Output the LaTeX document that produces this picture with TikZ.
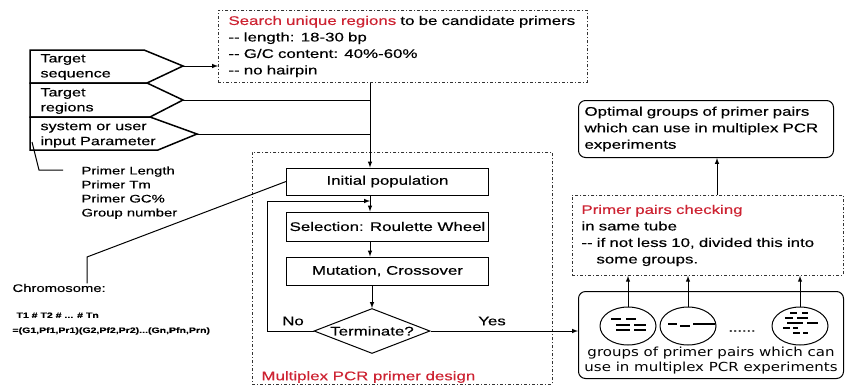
\documentclass[tikz,border=0pt]{standalone}
\usepackage{fontspec}
\setmainfont{Liberation Sans}[FakeStretch=1.35,FakeBold=0.4]
\newfontfamily\grpfont{DejaVu Sans}[FakeStretch=1.2]
\usetikzlibrary{shapes.geometric,positioning}
\definecolor{rouge}{RGB}{205,35,50}

\begin{document}
\begin{tikzpicture}[x=1pt,y=-1pt,line width=1pt]
%styles des boites et des traits
\tikzset{boite/.style={draw,rectangle,minimum width=202pt,inner sep=0pt,font=\fontsize{12.5}{15}\selectfont},
texte/.style={align=left,inner sep=0pt,font=\fontsize{12.5}{16.5}\selectfont},
tiret/.style={draw=black!80,dash pattern=on 3pt off 2pt on 1pt off 2pt,line width=0.9pt},
arrondi/.style={draw,rounded corners=7pt,line width=1pt},
fleche/.style={-latex,line width=1pt},
entree/.style={line width=1.5pt}}
\useasboundingbox (0,0) rectangle (846,389);

%recherche des regions
\node[tiret,texte,anchor=north west,minimum width=369pt,minimum height=72pt,text width=349pt,inner xsep=10pt] (search) at (218,10)
{\textcolor{rouge}{Search unique regions} to be candidate primers\\-{}- length: 18-30 bp\\-{}- G/C content: 40\%-60\%\\-{}- no hairpin};

%entrees (fleches pentagones)
\draw[entree] (30,50) -- (144,50) -- (183,66) -- (147,83) -- (30,83) -- cycle;
\draw[entree] (30,83) -- (147,83) -- (183,100) -- (150,117) -- (30,117) -- cycle;
\draw[entree] (30,117) -- (150,117) -- (197,134) -- (158,150) -- (30,150) -- cycle;
\node[texte,anchor=west,font=\fontsize{12}{15}\selectfont] (tseq) at (40,67) {Target\\sequence};
\node[texte,anchor=west,font=\fontsize{12}{15}\selectfont] (treg) at (40,101) {Target\\regions};
\node[texte,anchor=west,font=\fontsize{12}{15}\selectfont] (tpar) at (40,135) {system or user\\input Parameter};
\coordinate (pseq) at (183,66);
\coordinate (preg) at (183,100);
\coordinate (ppar) at (197,134);
\coordinate (axe) at (370,0); %axe vertical du flux

%parametres
\node[texte,anchor=north west,font=\fontsize{11}{14}\selectfont] (param) at (81,166) {Primer Length\\Primer Tm\\Primer GC\%\\Group number};
\coordinate (pa) at (32,142);
\draw (pa) -- (39,170) -- ++(24,0);

%algorithme genetique
\node[tiret,anchor=north west,minimum width=300pt,minimum height=232pt] (design) at (252,152) {};
\node[texte,anchor=west,text=rouge] (dlabel) at (261,377) {Multiplex PCR primer design};
\node[boite,minimum height=27pt] (init) at (387.5,181.5) {Initial population};
\node[boite,minimum height=29pt] (sel) at (387.5,226.5) {Selection: Roulette Wheel};
\node[boite,minimum height=28pt] (mut) at (387.5,271) {Mutation, Crossover};
\node[draw,diamond,aspect=2.6,minimum width=116pt,minimum height=45pt,inner sep=0pt,font=\fontsize{12.5}{15}\selectfont] (term) at (372,331) {Terminate?};
\node[texte] (lno) at (293,321) {No};
\node[texte] (lyes) at (492,321) {Yes};

\draw[fleche] (pseq) -- (pseq -| search.west);
\draw (preg) -- (preg -| axe);
\draw (ppar) -- (ppar -| axe);
\draw[fleche] (axe |- search.south) -- (axe |- init.north);
\draw[fleche] (axe |- init.south) -- (axe |- sel.north);
\draw[fleche] (axe |- sel.south) -- (axe |- mut.north);
\draw[fleche] (mut.south -| term.north) -- (term.north);
\draw[fleche] (term.west) -- ++(-46,0) |- (axe |- 0,201); %boucle No

%chromosome
\node[anchor=west,inner sep=0pt,font=\fontsize{11}{13}\selectfont] (chrom) at (12,288) {Chromosome:};
\node[texte,anchor=north west,font=\bfseries\fontsize{7.8}{15}\selectfont] (chromo) at (12,312) {\hspace*{4pt}T1 \# T2 \# ... \# Tn\\=(G1,Pf1,Pr1)(G2,Pf2,Pr2)...(Gn,Pfn,Prn)};
\coordinate (coude) at (87,257);
\draw (init.west) -- (coude) -- (coude |- chrom.north);

%groupes de paires
\node[arrondi,anchor=north west,minimum width=265pt,minimum height=87pt] (groups) at (578,291) {};
\foreach \n/\x in {e1/628,e2/688,e3/800}
  \node[draw,ellipse,minimum width=56pt,minimum height=38pt] (\n) at (\x,326) {};
\foreach \a/\b/\h in {-17/-7/-7,-2/8/-7,-12/2/-1,6/18/-1,-12/2/4,6/18/4}
  \draw[line width=1.2pt] ([shift={(\a,\h)}]e1.center) -- ([shift={(\b,\h)}]e1.center);
\foreach \a/\b/\h in {-20/-11/-2,-8/2/0,5/27/-2}
  \draw[line width=1.2pt] ([shift={(\a,\h)}]e2.center) -- ([shift={(\b,\h)}]e2.center);
\foreach \a/\b/\h in {-10/-3/-13,2/8/-13,-15/-7/-8,-3/8/-8,-13/3/-3,7/18/-3,-17/-10/2,-7/-2/2,-7/0/7,3/8/7}
  \draw[line width=1.2pt] ([shift={(\a,\h)}]e3.center) -- ([shift={(\b,\h)}]e3.center);
\node[inner sep=0pt,font=\fontsize{12}{14}\selectfont] (dots) at (742,331) {......};
\node[align=center,inner sep=0pt,font=\grpfont\fontsize{12.5}{15}\selectfont] (grptxt) at (711,361) {groups of primer pairs which can\\use in multiplex PCR experiments};
\draw[fleche] (term.east) -- (term.east -| groups.west);

%verification et resultat
\node[tiret,texte,anchor=north west,minimum width=271pt,minimum height=80pt,text width=253pt,inner xsep=9pt] (check) at (572,195)
{\textcolor{rouge}{Primer pairs checking}\\in same tube\\-{}- if not less 10, divided this into\\\hspace*{15pt}some groups.};
\node[arrondi,texte,anchor=north west,minimum width=255pt,minimum height=57pt,text width=243pt,inner xsep=6pt] (optimal) at (578,100)
{Optimal groups of primer pairs\\which can use in multiplex PCR\\experiments};
\foreach \n in {e1,e2,e3}
  \draw[fleche] (\n.north) -- (\n.north |- check.south);
\coordinate (haut) at (717,0);
\draw[fleche] (haut |- check.north) -- (haut |- optimal.south);
\end{tikzpicture}
\end{document}
